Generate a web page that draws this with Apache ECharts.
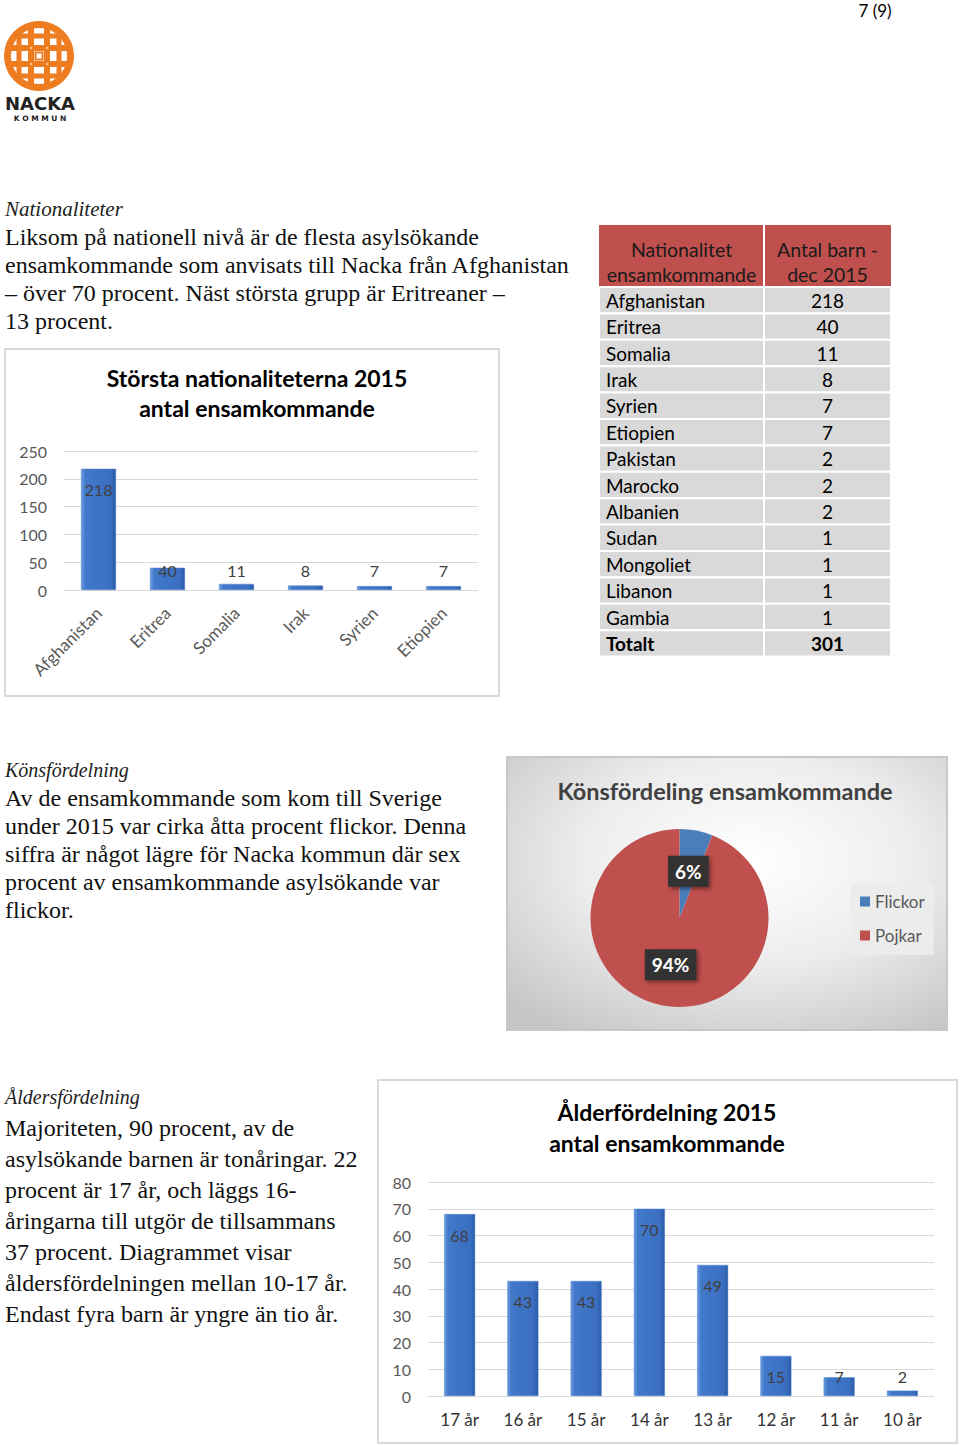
<!DOCTYPE html>
<html>
<head>
<meta charset="utf-8">
<script src="https://cdn.jsdelivr.net/npm/echarts@6/dist/echarts.min.js"></script>
<style>
  html, body { margin: 0; padding: 0; background: #fff; }
  #page { width: 960px; height: 1446px; }
</style>
</head>
<body>
<div id="page"></div>
<script>
// data
const nationNames = ['Afghanistan', 'Eritrea', 'Somalia', 'Irak', 'Syrien', 'Etiopien', 'Pakistan', 'Marocko', 'Albanien', 'Sudan', 'Mongoliet', 'Libanon', 'Gambia']
const nationCounts = [218, 40, 11, 8, 7, 7, 2, 2, 2, 1, 1, 1, 1]
const topCount = 6
const genderNames = ['Flickor', 'Pojkar']
const genderShares = [6, 94]
const ageNames = ['17 år', '16 år', '15 år', '14 år', '13 år', '12 år', '11 år', '10 år']
const ageCounts = [68, 43, 43, 70, 49, 15, 7, 2]

const serif = 'Liberation Serif'
const sans = 'Lato'
const gray = '#595959'

const section1 = ['Liksom på nationell nivå är de flesta asylsökande', 'ensamkommande som anvisats till Nacka från Afghanistan', '– över 70 procent. Näst största grupp är Eritreaner –', '13 procent.']
const section2 = ['Av de ensamkommande som kom till Sverige', 'under 2015 var cirka åtta procent flickor. Denna', 'siffra är något lägre för Nacka kommun där sex', 'procent av ensamkommande asylsökande var', 'flickor.']
const section3 = ['Majoriteten, 90 procent, av de', 'asylsökande barnen är tonåringar. 22', 'procent är 17 år, och läggs 16-', 'åringarna till utgör de tillsammans', '37 procent. Diagrammet visar', 'åldersfördelningen mellan 10-17 år.', 'Endast fyra barn är yngre än tio år.']

function txt(x, y, text, opts) {
  return {
    type: 'text', x: x, y: y, z: 5,
    style: Object.assign({
      text: text, fontFamily: sans, fontSize: 17, fill: '#000',
      textAlign: 'left', textVerticalAlign: 'middle'
    }, opts || {})
  }
}

function paragraph(head, lines, x, y0, headY, step, headSize) {
  const out = [txt(x, headY, head, { fontFamily: serif, fontStyle: 'italic', fontSize: headSize, fill: '#222' })]
  lines.forEach((l, i) => out.push(txt(x, y0 + i * step, l, { fontFamily: serif, fontSize: 24, fill: '#111' })))
  return out
}

// logo
function logo() {
  const cx = 39, cy = 56, orange = '#ee7d22'
  const els = [
    { type: 'circle', shape: { cx: cx, cy: cy, r: 35 }, style: { fill: orange } },
    { type: 'circle', shape: { cx: cx, cy: cy, r: 28 }, style: { fill: '#fff' } }
  ]
  ;[-8, 8].forEach(d => {
    els.push({ type: 'rect', shape: { x: cx + d - 3, y: cy - 32, width: 6, height: 64 }, style: { fill: orange } })
    els.push({ type: 'rect', shape: { x: cx - 32, y: cy + d - 3, width: 64, height: 6 }, style: { fill: orange } })
  })
  ;[-20, 20].forEach(d => {
    els.push({ type: 'rect', shape: { x: cx + d - 2.5, y: cy - 20, width: 5, height: 40 }, style: { fill: orange } })
    els.push({ type: 'rect', shape: { x: cx - 20, y: cy + d - 2.5, width: 40, height: 5 }, style: { fill: orange } })
  })
  els.push({ type: 'rect', shape: { x: cx - 3.5, y: cy - 3.5, width: 7, height: 7 }, style: { fill: 'none', stroke: orange, lineWidth: 2 } })
  ;[-8, 8].forEach(dx => [-8, 8].forEach(dy => {
    els.push({ type: 'circle', shape: { cx: cx + dx, cy: cy + dy, r: 1 }, style: { fill: '#fbd3b0' } })
  }))
  els.push(txt(40, 103, 'NACKA', { fontFamily: 'DejaVu Sans', fontSize: 18, fontWeight: 'bold', fill: '#222', textAlign: 'center' }))
  els.push(txt(40, 118.5, 'K O M M U N', { fontFamily: 'DejaVu Sans', fontSize: 7.5, fontWeight: 'bold', fill: '#222', textAlign: 'center' }))
  return els
}

// table built from the nation arrays
function table() {
  const x0 = 599, xm = 764, x1 = 891, top = 225, headH = 62, rowH = 26.4
  const els = [
    { type: 'rect', shape: { x: x0, y: top, width: x1 - x0, height: headH }, style: { fill: '#c0504d' } },
    txt((x0 + xm) / 2, 249, 'Nationalitet', { fontSize: 19.5, fill: '#1a1a1a', textAlign: 'center' }),
    txt((x0 + xm) / 2, 274, 'ensamkommande', { fontSize: 19.5, fill: '#1a1a1a', textAlign: 'center' }),
    txt((xm + x1) / 2, 249, 'Antal barn -', { fontSize: 19.5, fill: '#1a1a1a', textAlign: 'center' }),
    txt((xm + x1) / 2, 274, 'dec 2015', { fontSize: 19.5, fill: '#1a1a1a', textAlign: 'center' })
  ]
  const total = nationCounts.reduce((a, b) => a + b, 0)
  const rows = nationNames.map((n, i) => [n, nationCounts[i], false]).concat([['Totalt', total, true]])
  rows.forEach((r, i) => {
    const y = top + headH + i * rowH
    els.push({ type: 'rect', shape: { x: x0, y: y, width: x1 - x0, height: rowH }, style: { fill: '#d9d9d9', stroke: '#fff', lineWidth: 2 } })
    els.push(txt(606, y + rowH / 2, r[0], { fontSize: 19, fontWeight: r[2] ? 'bold' : 'normal' }))
    els.push(txt((xm + x1) / 2, y + rowH / 2, String(r[1]), { fontSize: 19, fontWeight: r[2] ? 'bold' : 'normal', textAlign: 'center' }))
  })
  els.push({ type: 'line', shape: { x1: xm, y1: top, x2: xm, y2: top + headH + rows.length * rowH }, style: { stroke: '#fff', lineWidth: 2 } })
  return els
}

const barColor = new echarts.graphic.LinearGradient(0, 0, 1, 0, [
  { offset: 0, color: '#6d9de0' },
  { offset: 0.12, color: '#4279cb' },
  { offset: 0.85, color: '#3a6ec1' },
  { offset: 1, color: '#2a5aa5' }
])

// labels at inside end, pushed up when the bar is too short
function endLabel(p) {
  const r = p.rect
  return { x: r.x + r.width / 2, y: Math.min(r.y + 21, r.y + r.height - 20), align: 'center', verticalAlign: 'middle' }
}

function barSeries(idx, values, width) {
  return {
    type: 'bar', xAxisIndex: idx, yAxisIndex: idx, data: values, barWidth: width,
    itemStyle: { color: barColor, borderColor: '#4f82cc', borderWidth: 0.5 },
    label: { show: true, position: 'inside', fontFamily: sans, fontSize: 16, color: '#404040' },
    labelLayout: endLabel
  }
}

function catAxis(idx, names, rotate, color) {
  return {
    type: 'category', gridIndex: idx, data: names,
    axisLine: { lineStyle: { color: '#d9d9d9' } }, axisTick: { show: false },
    axisLabel: { interval: 0, rotate: rotate, margin: rotate ? 20 : 15, fontFamily: sans, fontSize: 17, color: color }
  }
}

function valAxis(idx, max, step) {
  return {
    type: 'value', gridIndex: idx, min: 0, max: max, interval: step,
    axisLabel: { fontFamily: sans, fontSize: 16, color: gray, margin: 17 },
    splitLine: { lineStyle: { color: '#d9d9d9' } }
  }
}

const chart = echarts.init(document.getElementById('page'), null, { renderer: 'svg' })

chart.setOption({
  animation: false,
  grid: [
    { left: 64, width: 414, top: 451, height: 139 },
    { left: 428, width: 506, top: 1182, height: 214 }
  ],
  xAxis: [catAxis(0, nationNames.slice(0, topCount), 45, gray), catAxis(1, ageNames, 0, '#333')],
  yAxis: [valAxis(0, 250, 50), valAxis(1, 80, 10)],
  legend: {
    data: genderNames, orient: 'vertical', left: 851, top: 883,
    backgroundColor: '#ececec', padding: [10, 9, 11, 9], itemGap: 17,
    icon: 'rect', itemWidth: 10, itemHeight: 10,
    textStyle: { fontFamily: sans, fontSize: 17, color: gray }
  },
  series: [
    barSeries(0, nationCounts.slice(0, topCount), 35),
    barSeries(1, ageCounts, 31),
    {
      type: 'pie', center: [679.5, 918], radius: 89, startAngle: 90,
      data: genderNames.map((n, i) => ({ name: n, value: genderShares[i] })),
      color: ['#4a7ebb', '#c0504d'],
      label: {
        show: true, position: 'inside', formatter: '{d}%',
        fontFamily: sans, fontSize: 19, fontWeight: 'bold', color: '#fff',
        backgroundColor: '#333', padding: [7, 7, 5, 7],
        shadowColor: 'rgba(0,0,0,0.45)', shadowBlur: 4, shadowOffsetX: 2, shadowOffsetY: 2
      },
      labelLine: { show: false }
    }
  ],
  graphic: [].concat(
    // chart frames
    { type: 'rect', z: -10, shape: { x: 5, y: 349, width: 494, height: 347 }, style: { fill: '#fff', stroke: '#d9d9d9', lineWidth: 2 } },
    { type: 'rect', z: -10, shape: { x: 507, y: 757, width: 440, height: 273 }, style: { stroke: '#c8c8c8', lineWidth: 2, fill: new echarts.graphic.RadialGradient(0.55, 0.38, 0.75, [{ offset: 0, color: '#ffffff' }, { offset: 0.5, color: '#ededed' }, { offset: 1, color: '#c6c6c6' }]) } },
    { type: 'rect', z: -10, shape: { x: 378, y: 1080, width: 579, height: 363 }, style: { fill: '#fff', stroke: '#d9d9d9', lineWidth: 2 } },
    txt(875, 10, '7 (9)', { textAlign: 'center', fontSize: 17 }),
    logo(),
    paragraph('Nationaliteter', section1, 5, 237, 209, 28, 21),
    paragraph('Könsfördelning', section2, 5, 798, 770, 28, 20),
    paragraph('Åldersfördelning', section3, 5, 1128, 1097, 31, 20),
    table(),
    txt(257, 378, 'Största nationaliteterna 2015', { fontSize: 23, fontWeight: 'bold', textAlign: 'center' }),
    txt(257, 408, 'antal ensamkommande', { fontSize: 23, fontWeight: 'bold', textAlign: 'center' }),
    txt(725, 791, 'Könsfördeling ensamkommande', { fontSize: 23.5, fontWeight: 'bold', fill: '#404040', textAlign: 'center' }),
    txt(667, 1112, 'Ålderfördelning 2015', { fontSize: 23, fontWeight: 'bold', textAlign: 'center' }),
    txt(667, 1143, 'antal ensamkommande', { fontSize: 23, fontWeight: 'bold', textAlign: 'center' })
  )
})
</script>
</body>
</html>
